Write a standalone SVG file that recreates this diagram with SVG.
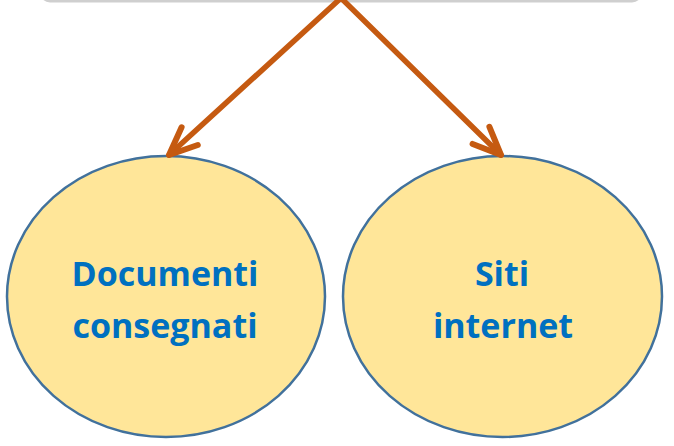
<svg xmlns="http://www.w3.org/2000/svg" width="674" height="446" viewBox="0 0 674 446">
<defs>
<style>
.node ellipse { fill: #FFE699; stroke: #41719C; stroke-width: 2.5; }
.node text { font-family: "Open Sans", "Liberation Sans", sans-serif; font-weight: 700; font-size: 34px; fill: #0070C0; text-anchor: middle; }
.conn line { stroke: #C55A11; stroke-width: 5.5; stroke-linecap: round; }
</style>
<marker id="arr" markerUnits="userSpaceOnUse" orient="auto" markerWidth="40" markerHeight="40" refX="0" refY="0" viewBox="-35 -20 40 40" overflow="visible">
<path d="M -28,-12 L 0,0 L -28,12" fill="none" stroke="#C55A11" stroke-width="6" stroke-linecap="round" stroke-linejoin="round"/>
</marker>
</defs>
<rect width="674" height="446" fill="#FFFFFF"/>
<g id="top-box">
<rect x="40" y="-40" width="602" height="42.5" rx="10" fill="#CFCFCF"/>
</g>
<g id="node-documenti" class="node">
<ellipse cx="166" cy="296.5" rx="159" ry="140.5"/>
<text x="165" y="286">Documenti</text>
<text x="165" y="338">consegnati</text>
</g>
<g id="node-siti" class="node">
<ellipse cx="502.5" cy="296.5" rx="159.5" ry="140.5"/>
<text x="502" y="286">Siti</text>
<text x="503" y="338">internet</text>
</g>
<g id="connectors" class="conn">
<line x1="341" y1="-2" x2="169" y2="155" marker-end="url(#arr)"/>
<line x1="341" y1="-2" x2="501" y2="155" marker-end="url(#arr)"/>
</g>
</svg>
